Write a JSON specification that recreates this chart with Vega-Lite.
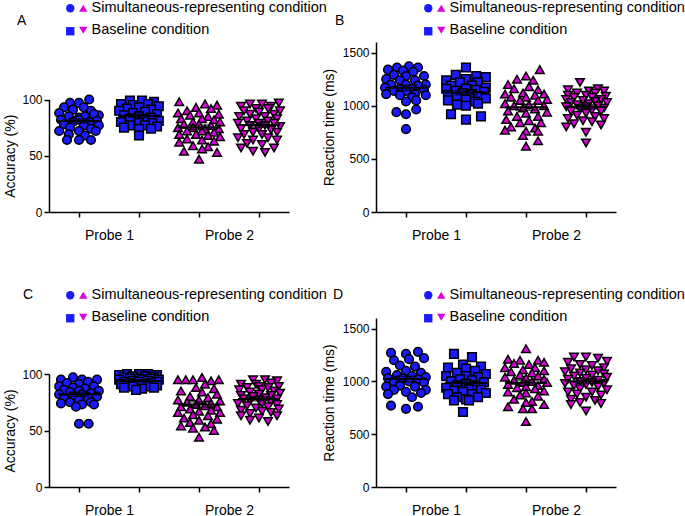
{
"$schema": "https://vega.github.io/schema/vega-lite/v6.json",
"autosize": {"type": "none"},
"padding": {"left": 49, "top": 42, "right": 636, "bottom": 474},
"background": "white",
"bounds": "flush",
"columns": 2,
"spacing": {"row": 106, "column": 87},
"config": {
 "view": {"stroke": null},
 "axis": {"domainColor": "black", "domainWidth": 1.5, "tickColor": "black", "tickWidth": 1.5, "tickSize": 5, "labelColor": "black", "labelFont": "Liberation Sans", "labelFontSize": 12, "titleFont": "Liberation Sans", "titleFontSize": 14, "titleFontWeight": "normal", "titleColor": "black", "grid": false, "format": "d"},
 "legend": {"labelFont": "Liberation Sans", "labelFontSize": 14.5, "labelColor": "black", "labelLimit": 0, "labelOffset": 1, "symbolStrokeColor": "black", "symbolStrokeWidth": 1.5, "symbolSize": 70, "rowPadding": 7, "padding": 0},
 "title": {"font": "Liberation Sans", "fontSize": 14, "fontWeight": "normal", "color": "black", "anchor": "start", "frame": "group"}
},
"datasets": {
"A": [
{"g":1,"x":1.17,"v":100},{"g":1,"x":0.85,"v":97},{"g":1,"x":1,"v":97},{"g":1,"x":0.75,"v":93},{"g":1,"x":1.08,"v":93},{"g":1,"x":1.33,"v":86},{"g":1,"x":0.9,"v":91},{"g":1,"x":1.2,"v":90},{"g":1,"x":0.67,"v":88},{"g":1,"x":1,"v":84},{"g":1,"x":1.25,"v":87},{"g":1,"x":0.83,"v":85},{"g":1,"x":1.1,"v":85},{"g":1,"x":0.7,"v":82},{"g":1,"x":1,"v":82},{"g":1,"x":1.3,"v":81},{"g":1,"x":0.9,"v":80},{"g":1,"x":1.17,"v":80},{"g":1,"x":0.75,"v":78},{"g":1,"x":1.08,"v":77},{"g":1,"x":1.33,"v":77},{"g":1,"x":0.85,"v":75},{"g":1,"x":1.2,"v":74},{"g":1,"x":0.67,"v":72},{"g":1,"x":1,"v":72},{"g":1,"x":1.28,"v":72},{"g":1,"x":0.83,"v":69},{"g":1,"x":1.1,"v":68},{"g":1,"x":0.8,"v":64},{"g":1,"x":1,"v":64},{"g":1,"x":1.2,"v":64},
{"g":2,"x":1.85,"v":99},{"g":2,"x":2.05,"v":99},{"g":2,"x":2.25,"v":98},{"g":2,"x":1.7,"v":96},{"g":2,"x":1.9,"v":95},{"g":2,"x":2.15,"v":96},{"g":2,"x":2.33,"v":94},{"g":2,"x":1.8,"v":92},{"g":2,"x":2,"v":93},{"g":2,"x":2.2,"v":91},{"g":2,"x":1.67,"v":90},{"g":2,"x":2.1,"v":89},{"g":2,"x":1.9,"v":88},{"g":2,"x":2.3,"v":87},{"g":2,"x":1.75,"v":86},{"g":2,"x":2,"v":85},{"g":2,"x":2.2,"v":84},{"g":2,"x":1.85,"v":83},{"g":2,"x":2.1,"v":82},{"g":2,"x":2.33,"v":81},{"g":2,"x":1.7,"v":80},{"g":2,"x":2,"v":79},{"g":2,"x":2.22,"v":79},{"g":2,"x":1.85,"v":77},{"g":2,"x":2.1,"v":77},{"g":2,"x":2.3,"v":76},{"g":2,"x":1.75,"v":75},{"g":2,"x":2,"v":74},{"g":2,"x":2.2,"v":74},{"g":2,"x":2,"v":68},
{"g":3,"x":2.67,"v":98},{"g":3,"x":3.1,"v":96},{"g":3,"x":3.3,"v":95},{"g":3,"x":2.95,"v":93},{"g":3,"x":3.2,"v":92},{"g":3,"x":2.8,"v":90},{"g":3,"x":2.65,"v":88},{"g":3,"x":3,"v":88},{"g":3,"x":3.33,"v":87},{"g":3,"x":2.85,"v":86},{"g":3,"x":3.15,"v":85},{"g":3,"x":2.7,"v":83},{"g":3,"x":3.05,"v":83},{"g":3,"x":3.25,"v":82},{"g":3,"x":2.9,"v":80},{"g":3,"x":3.35,"v":80},{"g":3,"x":2.75,"v":78},{"g":3,"x":3,"v":78},{"g":3,"x":3.2,"v":77},{"g":3,"x":2.65,"v":75},{"g":3,"x":2.9,"v":75},{"g":3,"x":3.1,"v":74},{"g":3,"x":3.33,"v":74},{"g":3,"x":2.8,"v":72},{"g":3,"x":3.05,"v":72},{"g":3,"x":3.25,"v":71},{"g":3,"x":2.67,"v":69},{"g":3,"x":2.95,"v":69},{"g":3,"x":3.15,"v":68},{"g":3,"x":3.35,"v":67},{"g":3,"x":2.8,"v":65},{"g":3,"x":3.05,"v":64},{"g":3,"x":3.25,"v":63},{"g":3,"x":2.67,"v":62},{"g":3,"x":2.9,"v":59},{"g":3,"x":3.15,"v":58},{"g":3,"x":2.75,"v":54},{"g":3,"x":3.05,"v":56},{"g":3,"x":3.3,"v":53},{"g":3,"x":3,"v":47},
{"g":4,"x":3.85,"v":96},{"g":4,"x":4.05,"v":96},{"g":4,"x":4.33,"v":97},{"g":4,"x":3.7,"v":94},{"g":4,"x":4.2,"v":94},{"g":4,"x":3.95,"v":92},{"g":4,"x":4.15,"v":92},{"g":4,"x":3.75,"v":90},{"g":4,"x":4.35,"v":90},{"g":4,"x":4,"v":89},{"g":4,"x":3.85,"v":87},{"g":4,"x":4.25,"v":87},{"g":4,"x":3.67,"v":85},{"g":4,"x":4.1,"v":85},{"g":4,"x":3.95,"v":83},{"g":4,"x":4.3,"v":83},{"g":4,"x":3.8,"v":81},{"g":4,"x":4.15,"v":81},{"g":4,"x":3.65,"v":79},{"g":4,"x":4,"v":79},{"g":4,"x":4.25,"v":79},{"g":4,"x":3.85,"v":77},{"g":4,"x":4.1,"v":77},{"g":4,"x":4.35,"v":76},{"g":4,"x":3.7,"v":74},{"g":4,"x":4,"v":74},{"g":4,"x":4.2,"v":73},{"g":4,"x":3.9,"v":71},{"g":4,"x":4.3,"v":71},{"g":4,"x":3.75,"v":69},{"g":4,"x":4.05,"v":69},{"g":4,"x":3.65,"v":66},{"g":4,"x":4.15,"v":66},{"g":4,"x":3.9,"v":64},{"g":4,"x":4.3,"v":64},{"g":4,"x":3.8,"v":61},{"g":4,"x":4.05,"v":60},{"g":4,"x":3.7,"v":57},{"g":4,"x":4.25,"v":57},{"g":4,"x":3.9,"v":54},{"g":4,"x":4.1,"v":53}
],
"B": [
{"g":1,"x":0.85,"v":1360},{"g":1,"x":1.05,"v":1370},{"g":1,"x":1.2,"v":1360},{"g":1,"x":0.7,"v":1340},{"g":1,"x":0.95,"v":1330},{"g":1,"x":1.12,"v":1320},{"g":1,"x":0.8,"v":1290},{"g":1,"x":1.3,"v":1280},{"g":1,"x":1,"v":1280},{"g":1,"x":0.67,"v":1250},{"g":1,"x":0.9,"v":1240},{"g":1,"x":1.15,"v":1240},{"g":1,"x":1.33,"v":1200},{"g":1,"x":0.75,"v":1200},{"g":1,"x":1,"v":1200},{"g":1,"x":1.2,"v":1190},{"g":1,"x":0.65,"v":1170},{"g":1,"x":0.9,"v":1160},{"g":1,"x":1.1,"v":1160},{"g":1,"x":1.3,"v":1150},{"g":1,"x":0.8,"v":1140},{"g":1,"x":1,"v":1140},{"g":1,"x":0.67,"v":1110},{"g":1,"x":1.15,"v":1110},{"g":1,"x":1.33,"v":1100},{"g":1,"x":0.9,"v":1100},{"g":1,"x":1.1,"v":1080},{"g":1,"x":1,"v":1040},{"g":1,"x":1.17,"v":1050},{"g":1,"x":0.84,"v":940},{"g":1,"x":1,"v":920},{"g":1,"x":1.17,"v":965},{"g":1,"x":1,"v":780},
{"g":2,"x":2,"v":1360},{"g":2,"x":1.83,"v":1290},{"g":2,"x":2.17,"v":1280},{"g":2,"x":2.33,"v":1270},{"g":2,"x":1.67,"v":1240},{"g":2,"x":2,"v":1250},{"g":2,"x":1.9,"v":1220},{"g":2,"x":2.2,"v":1220},{"g":2,"x":1.75,"v":1190},{"g":2,"x":2.1,"v":1190},{"g":2,"x":2.33,"v":1170},{"g":2,"x":1.67,"v":1160},{"g":2,"x":2,"v":1160},{"g":2,"x":2.17,"v":1150},{"g":2,"x":1.83,"v":1140},{"g":2,"x":2.3,"v":1130},{"g":2,"x":1.95,"v":1120},{"g":2,"x":2.1,"v":1110},{"g":2,"x":1.7,"v":1100},{"g":2,"x":2.2,"v":1090},{"g":2,"x":1.85,"v":1080},{"g":2,"x":2.33,"v":1070},{"g":2,"x":2,"v":1060},{"g":2,"x":1.7,"v":1050},{"g":2,"x":2.15,"v":1040},{"g":2,"x":1.85,"v":1010},{"g":2,"x":2,"v":1000},{"g":2,"x":2.2,"v":1020},{"g":2,"x":1.75,"v":920},{"g":2,"x":2.25,"v":900},{"g":2,"x":2,"v":870},
{"g":3,"x":3.23,"v":1340},{"g":3,"x":3,"v":1280},{"g":3,"x":2.85,"v":1250},{"g":3,"x":3.12,"v":1240},{"g":3,"x":2.7,"v":1200},{"g":3,"x":3.05,"v":1180},{"g":3,"x":2.8,"v":1160},{"g":3,"x":3.2,"v":1150},{"g":3,"x":2.65,"v":1110},{"g":3,"x":2.95,"v":1120},{"g":3,"x":3.3,"v":1110},{"g":3,"x":3.15,"v":1100},{"g":3,"x":2.75,"v":1080},{"g":3,"x":3,"v":1080},{"g":3,"x":3.35,"v":1060},{"g":3,"x":2.9,"v":1050},{"g":3,"x":3.2,"v":1050},{"g":3,"x":2.65,"v":1020},{"g":3,"x":3.05,"v":1010},{"g":3,"x":2.8,"v":1000},{"g":3,"x":3.3,"v":1000},{"g":3,"x":2.95,"v":980},{"g":3,"x":3.15,"v":970},{"g":3,"x":2.7,"v":950},{"g":3,"x":3.35,"v":940},{"g":3,"x":3,"v":930},{"g":3,"x":2.85,"v":900},{"g":3,"x":3.2,"v":900},{"g":3,"x":2.67,"v":870},{"g":3,"x":3.05,"v":860},{"g":3,"x":2.9,"v":840},{"g":3,"x":3.25,"v":840},{"g":3,"x":2.75,"v":800},{"g":3,"x":3.15,"v":790},{"g":3,"x":2.65,"v":770},{"g":3,"x":3,"v":760},{"g":3,"x":3.2,"v":760},{"g":3,"x":2.95,"v":720},{"g":3,"x":3.2,"v":670},{"g":3,"x":3,"v":620},
{"g":4,"x":3.9,"v":1220},{"g":4,"x":4.2,"v":1160},{"g":4,"x":3.7,"v":1150},{"g":4,"x":4.05,"v":1140},{"g":4,"x":4.3,"v":1140},{"g":4,"x":3.85,"v":1120},{"g":4,"x":4.15,"v":1120},{"g":4,"x":3.7,"v":1100},{"g":4,"x":4,"v":1100},{"g":4,"x":4.33,"v":1090},{"g":4,"x":3.8,"v":1080},{"g":4,"x":4.1,"v":1080},{"g":4,"x":3.67,"v":1060},{"g":4,"x":4.25,"v":1060},{"g":4,"x":3.95,"v":1050},{"g":4,"x":4.15,"v":1040},{"g":4,"x":3.75,"v":1030},{"g":4,"x":4.35,"v":1030},{"g":4,"x":4.05,"v":1020},{"g":4,"x":3.85,"v":1010},{"g":4,"x":4.2,"v":1000},{"g":4,"x":3.67,"v":990},{"g":4,"x":4,"v":990},{"g":4,"x":4.3,"v":980},{"g":4,"x":3.9,"v":970},{"g":4,"x":4.1,"v":960},{"g":4,"x":3.75,"v":950},{"g":4,"x":4.25,"v":950},{"g":4,"x":4,"v":930},{"g":4,"x":3.85,"v":910},{"g":4,"x":4.15,"v":900},{"g":4,"x":3.7,"v":880},{"g":4,"x":4.3,"v":880},{"g":4,"x":3.95,"v":860},{"g":4,"x":4.1,"v":850},{"g":4,"x":3.8,"v":830},{"g":4,"x":4.25,"v":820},{"g":4,"x":3.67,"v":800},{"g":4,"x":4,"v":750},{"g":4,"x":4,"v":650}
],
"C": [
{"g":1,"x":0.9,"v":97},{"g":1,"x":1.05,"v":95},{"g":1,"x":0.7,"v":95},{"g":1,"x":1.3,"v":95},{"g":1,"x":0.8,"v":92},{"g":1,"x":1.15,"v":93},{"g":1,"x":1,"v":91},{"g":1,"x":0.67,"v":89},{"g":1,"x":1.25,"v":89},{"g":1,"x":0.9,"v":88},{"g":1,"x":1.1,"v":87},{"g":1,"x":0.75,"v":86},{"g":1,"x":1.33,"v":85},{"g":1,"x":1,"v":85},{"g":1,"x":0.85,"v":84},{"g":1,"x":1.2,"v":83},{"g":1,"x":0.67,"v":82},{"g":1,"x":1.05,"v":82},{"g":1,"x":0.9,"v":80},{"g":1,"x":1.3,"v":80},{"g":1,"x":1.15,"v":79},{"g":1,"x":0.75,"v":78},{"g":1,"x":1,"v":77},{"g":1,"x":0.85,"v":75},{"g":1,"x":1.2,"v":75},{"g":1,"x":0.7,"v":74},{"g":1,"x":1.05,"v":73},{"g":1,"x":1.25,"v":73},{"g":1,"x":0.95,"v":71},{"g":1,"x":1,"v":56},{"g":1,"x":1.16,"v":56},
{"g":2,"x":1.8,"v":100},{"g":2,"x":2,"v":100},{"g":2,"x":2.15,"v":100},{"g":2,"x":2.3,"v":99},{"g":2,"x":1.67,"v":99},{"g":2,"x":1.9,"v":98},{"g":2,"x":2.1,"v":98},{"g":2,"x":2.25,"v":97},{"g":2,"x":1.75,"v":97},{"g":2,"x":2,"v":96},{"g":2,"x":1.85,"v":96},{"g":2,"x":2.2,"v":96},{"g":2,"x":2.33,"v":95},{"g":2,"x":1.67,"v":95},{"g":2,"x":2.05,"v":95},{"g":2,"x":1.9,"v":94},{"g":2,"x":2.15,"v":94},{"g":2,"x":1.75,"v":93},{"g":2,"x":2.3,"v":93},{"g":2,"x":2,"v":93},{"g":2,"x":1.85,"v":92},{"g":2,"x":2.2,"v":92},{"g":2,"x":1.7,"v":91},{"g":2,"x":2.05,"v":91},{"g":2,"x":2.3,"v":90},{"g":2,"x":1.9,"v":89},{"g":2,"x":2.15,"v":89},{"g":2,"x":1.75,"v":88},{"g":2,"x":2.05,"v":87},{"g":2,"x":2.25,"v":88},{"g":2,"x":1.95,"v":86},
{"g":3,"x":2.65,"v":95},{"g":3,"x":2.78,"v":95},{"g":3,"x":2.9,"v":95},{"g":3,"x":3.05,"v":97},{"g":3,"x":3.2,"v":94},{"g":3,"x":3.33,"v":95},{"g":3,"x":3.1,"v":91},{"g":3,"x":2.95,"v":88},{"g":3,"x":3.25,"v":87},{"g":3,"x":2.7,"v":85},{"g":3,"x":3.05,"v":84},{"g":3,"x":3.3,"v":82},{"g":3,"x":2.85,"v":80},{"g":3,"x":3.15,"v":79},{"g":3,"x":2.65,"v":77},{"g":3,"x":3,"v":77},{"g":3,"x":3.35,"v":76},{"g":3,"x":2.8,"v":75},{"g":3,"x":3.2,"v":74},{"g":3,"x":2.95,"v":73},{"g":3,"x":3.1,"v":72},{"g":3,"x":2.7,"v":71},{"g":3,"x":3.3,"v":71},{"g":3,"x":2.85,"v":69},{"g":3,"x":3.2,"v":68},{"g":3,"x":3,"v":67},{"g":3,"x":2.65,"v":66},{"g":3,"x":3.35,"v":66},{"g":3,"x":2.9,"v":64},{"g":3,"x":3.15,"v":63},{"g":3,"x":2.75,"v":61},{"g":3,"x":3.3,"v":60},{"g":3,"x":3,"v":59},{"g":3,"x":2.85,"v":57},{"g":3,"x":3.2,"v":56},{"g":3,"x":2.7,"v":54},{"g":3,"x":3.1,"v":53},{"g":3,"x":2.9,"v":52},{"g":3,"x":3.25,"v":50},{"g":3,"x":3,"v":44},
{"g":4,"x":3.9,"v":95},{"g":4,"x":4.1,"v":95},{"g":4,"x":4.3,"v":94},{"g":4,"x":3.7,"v":91},{"g":4,"x":3.95,"v":91},{"g":4,"x":4.2,"v":92},{"g":4,"x":4,"v":89},{"g":4,"x":4.33,"v":89},{"g":4,"x":3.8,"v":88},{"g":4,"x":4.15,"v":88},{"g":4,"x":3.67,"v":86},{"g":4,"x":4.05,"v":86},{"g":4,"x":4.25,"v":85},{"g":4,"x":3.85,"v":84},{"g":4,"x":4.35,"v":83},{"g":4,"x":4,"v":82},{"g":4,"x":3.7,"v":81},{"g":4,"x":4.2,"v":81},{"g":4,"x":3.9,"v":80},{"g":4,"x":4.1,"v":79},{"g":4,"x":3.75,"v":78},{"g":4,"x":4.3,"v":78},{"g":4,"x":4,"v":77},{"g":4,"x":3.85,"v":76},{"g":4,"x":4.2,"v":75},{"g":4,"x":3.65,"v":74},{"g":4,"x":4.05,"v":74},{"g":4,"x":4.3,"v":73},{"g":4,"x":3.8,"v":72},{"g":4,"x":4.15,"v":71},{"g":4,"x":3.95,"v":70},{"g":4,"x":4.33,"v":69},{"g":4,"x":3.7,"v":68},{"g":4,"x":4.05,"v":67},{"g":4,"x":4.2,"v":66},{"g":4,"x":3.85,"v":65},{"g":4,"x":3.7,"v":63},{"g":4,"x":4.3,"v":63},{"g":4,"x":4,"v":61},{"g":4,"x":3.85,"v":59},{"g":4,"x":4.15,"v":58}
],
"D": [
{"g":1,"x":0.75,"v":1270},{"g":1,"x":1,"v":1260},{"g":1,"x":1.2,"v":1280},{"g":1,"x":0.8,"v":1200},{"g":1,"x":1.05,"v":1210},{"g":1,"x":1.3,"v":1220},{"g":1,"x":0.9,"v":1150},{"g":1,"x":1.15,"v":1140},{"g":1,"x":0.67,"v":1090},{"g":1,"x":1,"v":1100},{"g":1,"x":1.25,"v":1080},{"g":1,"x":0.85,"v":1060},{"g":1,"x":1.1,"v":1050},{"g":1,"x":1.33,"v":1040},{"g":1,"x":0.7,"v":1030},{"g":1,"x":0.95,"v":1030},{"g":1,"x":1.2,"v":1020},{"g":1,"x":0.8,"v":1000},{"g":1,"x":1.05,"v":1000},{"g":1,"x":1.3,"v":990},{"g":1,"x":0.67,"v":950},{"g":1,"x":0.9,"v":960},{"g":1,"x":1.15,"v":950},{"g":1,"x":1.33,"v":920},{"g":1,"x":0.8,"v":920},{"g":1,"x":1,"v":900},{"g":1,"x":1.25,"v":890},{"g":1,"x":0.7,"v":880},{"g":1,"x":1.1,"v":850},{"g":1,"x":0.75,"v":770},{"g":1,"x":1,"v":740},{"g":1,"x":1.2,"v":760},
{"g":2,"x":1.8,"v":1260},{"g":2,"x":2.1,"v":1230},{"g":2,"x":1.95,"v":1160},{"g":2,"x":2.25,"v":1140},{"g":2,"x":1.7,"v":1130},{"g":2,"x":2,"v":1120},{"g":2,"x":2.15,"v":1100},{"g":2,"x":1.85,"v":1080},{"g":2,"x":2.33,"v":1070},{"g":2,"x":1.67,"v":1050},{"g":2,"x":2,"v":1050},{"g":2,"x":2.2,"v":1040},{"g":2,"x":1.9,"v":1020},{"g":2,"x":2.1,"v":1010},{"g":2,"x":1.75,"v":1000},{"g":2,"x":2.3,"v":990},{"g":2,"x":2,"v":980},{"g":2,"x":1.85,"v":960},{"g":2,"x":2.15,"v":960},{"g":2,"x":1.67,"v":940},{"g":2,"x":2.05,"v":930},{"g":2,"x":2.25,"v":920},{"g":2,"x":1.8,"v":910},{"g":2,"x":1.95,"v":900},{"g":2,"x":2.33,"v":890},{"g":2,"x":2.1,"v":880},{"g":2,"x":1.7,"v":880},{"g":2,"x":1.85,"v":850},{"g":2,"x":2.2,"v":850},{"g":2,"x":2,"v":830},{"g":2,"x":1.8,"v":820},{"g":2,"x":2.05,"v":820},{"g":2,"x":1.95,"v":710},
{"g":3,"x":3,"v":1310},{"g":3,"x":2.7,"v":1210},{"g":3,"x":2.9,"v":1200},{"g":3,"x":3.2,"v":1200},{"g":3,"x":3.3,"v":1180},{"g":3,"x":2.8,"v":1170},{"g":3,"x":3.05,"v":1160},{"g":3,"x":2.65,"v":1130},{"g":3,"x":3.15,"v":1130},{"g":3,"x":2.95,"v":1110},{"g":3,"x":3.3,"v":1100},{"g":3,"x":2.75,"v":1090},{"g":3,"x":3.1,"v":1080},{"g":3,"x":2.9,"v":1060},{"g":3,"x":3.2,"v":1050},{"g":3,"x":2.65,"v":1040},{"g":3,"x":3,"v":1030},{"g":3,"x":3.3,"v":1020},{"g":3,"x":2.8,"v":1010},{"g":3,"x":3.1,"v":1000},{"g":3,"x":2.95,"v":990},{"g":3,"x":3.35,"v":990},{"g":3,"x":2.7,"v":970},{"g":3,"x":3.2,"v":960},{"g":3,"x":3,"v":950},{"g":3,"x":2.85,"v":940},{"g":3,"x":3.15,"v":930},{"g":3,"x":3.3,"v":910},{"g":3,"x":2.7,"v":900},{"g":3,"x":3,"v":890},{"g":3,"x":2.9,"v":870},{"g":3,"x":3.2,"v":860},{"g":3,"x":2.8,"v":830},{"g":3,"x":3.1,"v":810},{"g":3,"x":2.7,"v":760},{"g":3,"x":3.3,"v":780},{"g":3,"x":3,"v":800},{"g":3,"x":2.95,"v":740},{"g":3,"x":3.1,"v":740},{"g":3,"x":3,"v":620},
{"g":4,"x":3.8,"v":1230},{"g":4,"x":4,"v":1230},{"g":4,"x":4.2,"v":1220},{"g":4,"x":4.35,"v":1190},{"g":4,"x":3.7,"v":1180},{"g":4,"x":3.9,"v":1160},{"g":4,"x":4.1,"v":1150},{"g":4,"x":4.3,"v":1130},{"g":4,"x":3.75,"v":1120},{"g":4,"x":4,"v":1110},{"g":4,"x":4.2,"v":1100},{"g":4,"x":3.65,"v":1090},{"g":4,"x":3.9,"v":1080},{"g":4,"x":4.3,"v":1070},{"g":4,"x":4.1,"v":1060},{"g":4,"x":3.8,"v":1050},{"g":4,"x":4.35,"v":1040},{"g":4,"x":4,"v":1030},{"g":4,"x":3.7,"v":1020},{"g":4,"x":4.2,"v":1010},{"g":4,"x":3.9,"v":1000},{"g":4,"x":4.1,"v":990},{"g":4,"x":3.65,"v":980},{"g":4,"x":4.3,"v":980},{"g":4,"x":4,"v":970},{"g":4,"x":3.8,"v":960},{"g":4,"x":4.2,"v":950},{"g":4,"x":3.9,"v":930},{"g":4,"x":4.35,"v":920},{"g":4,"x":3.7,"v":900},{"g":4,"x":4.1,"v":900},{"g":4,"x":3.85,"v":880},{"g":4,"x":4.25,"v":870},{"g":4,"x":4,"v":850},{"g":4,"x":3.75,"v":830},{"g":4,"x":4.15,"v":820},{"g":4,"x":3.9,"v":800},{"g":4,"x":4.25,"v":790},{"g":4,"x":3.75,"v":780},{"g":4,"x":4,"v":720}
]
},
"concat": [
{
 "width": 240, "height": 170,
 "data": {"name": "A"},
 "title": {"text": "A", "dx": -32, "dy": 31},
 "layer": [
  {"transform": [{"filter": "datum.g <= 2"}],
   "mark": {"type": "point", "filled": true, "color": "#1a1aff", "stroke": "black", "strokeWidth": 1.5, "size": 75, "opacity": 1},
   "encoding": {
    "x": {"field": "x", "type": "quantitative", "title": null, "scale": {"domain": [0.5, 4.5]}, "axis": {"values": [1, 1.5, 2, 3, 3.5, 4], "labelExpr": "datum.value == 1.5 ? 'Probe 1' : datum.value == 3.5 ? 'Probe 2' : ''", "tickOpacity": {"condition": {"test": "datum.value == 1.5 || datum.value == 3.5", "value": 0}, "value": 1}, "labelFontSize": 14, "labelPadding": 11, "labelFlush": false, "labelOverlap": false}},
    "y": {"field": "v", "type": "quantitative", "title": "Accuracy (%)", "scale": {"domain": [0, 100], "range": [170, 57.5]}, "axis": {"values": [0, 50, 100]}},
    "shape": {"field": "g", "type": "nominal", "scale": {"domain": [1, 2], "range": ["circle", "square"]}, "legend": {"orient": "none", "legendX": 14, "legendY": -41, "title": null, "labelExpr": "' '", "encode": {"symbols": {"update": {"fill": {"value": "#1a1aff"}, "stroke": {"value": "black"}, "strokeWidth": {"value": 1.5}, "opacity": {"value": 1}}}}}}
   }},
  {"transform": [{"filter": "datum.g >= 3"}],
   "mark": {"type": "point", "filled": true, "color": "#dd00dd", "stroke": "black", "strokeWidth": 1.5, "size": 75, "opacity": 1},
   "encoding": {
    "x": {"field": "x", "type": "quantitative", "title": null, "scale": {"domain": [0.5, 4.5]}},
    "y": {"field": "v", "type": "quantitative", "title": "Accuracy (%)", "scale": {"domain": [0, 100], "range": [170, 57.5]}},
    "shape": {"field": "g", "type": "nominal", "scale": {"domain": [3, 4], "range": ["triangle-up", "triangle-down"]}, "legend": {"orient": "none", "legendX": 27, "legendY": -41, "title": null, "labelExpr": "datum.label == '3' ? 'Simultaneous-representing condition' : 'Baseline condition'", "encode": {"symbols": {"update": {"fill": {"value": "#dd00dd"}, "stroke": {"value": "black"}, "strokeWidth": {"value": 1.5}, "opacity": {"value": 1}}}}}}
   }},
  {"mark": {"type": "errorbar", "extent": "stderr", "orient": "vertical", "ticks": {"size": 22, "thickness": 1.5}, "color": "black", "thickness": 1.5},
   "encoding": {"x": {"field": "g", "type": "quantitative", "title": null}, "y": {"field": "v", "type": "quantitative", "title": "Accuracy (%)"}}},
  {"mark": {"type": "tick", "orient": "horizontal", "size": 42, "thickness": 2, "color": "black", "opacity": 1},
   "encoding": {"x": {"field": "g", "type": "quantitative", "title": null}, "y": {"aggregate": "mean", "field": "v", "type": "quantitative", "title": "Accuracy (%)"}}}
 ],
 "resolve": {"scale": {"shape": "independent"}, "legend": {"shape": "independent"}}
},
{
 "width": 240, "height": 170,
 "data": {"name": "B"},
 "title": {"text": "B", "dx": -41, "dy": 31},
 "layer": [
  {"transform": [{"filter": "datum.g <= 2"}],
   "mark": {"type": "point", "filled": true, "color": "#1a1aff", "stroke": "black", "strokeWidth": 1.5, "size": 75, "opacity": 1},
   "encoding": {
    "x": {"field": "x", "type": "quantitative", "title": null, "scale": {"domain": [0.5, 4.5]}, "axis": {"values": [1, 1.5, 2, 3, 3.5, 4], "labelExpr": "datum.value == 1.5 ? 'Probe 1' : datum.value == 3.5 ? 'Probe 2' : ''", "tickOpacity": {"condition": {"test": "datum.value == 1.5 || datum.value == 3.5", "value": 0}, "value": 1}, "labelFontSize": 14, "labelPadding": 11, "labelFlush": false, "labelOverlap": false}},
    "y": {"field": "v", "type": "quantitative", "title": "Reaction time (ms)", "scale": {"domain": [0, 1500]}, "axis": {"values": [0, 500, 1000, 1500], "titlePadding": 6}},
    "shape": {"field": "g", "type": "nominal", "scale": {"domain": [1, 2], "range": ["circle", "square"]}, "legend": {"orient": "none", "legendX": 45, "legendY": -41, "title": null, "labelExpr": "' '", "encode": {"symbols": {"update": {"fill": {"value": "#1a1aff"}, "stroke": {"value": "black"}, "strokeWidth": {"value": 1.5}, "opacity": {"value": 1}}}}}}
   }},
  {"transform": [{"filter": "datum.g >= 3"}],
   "mark": {"type": "point", "filled": true, "color": "#dd00dd", "stroke": "black", "strokeWidth": 1.5, "size": 75, "opacity": 1},
   "encoding": {
    "x": {"field": "x", "type": "quantitative", "title": null, "scale": {"domain": [0.5, 4.5]}},
    "y": {"field": "v", "type": "quantitative", "title": "Reaction time (ms)", "scale": {"domain": [0, 1500]}},
    "shape": {"field": "g", "type": "nominal", "scale": {"domain": [3, 4], "range": ["triangle-up", "triangle-down"]}, "legend": {"orient": "none", "legendX": 58, "legendY": -41, "title": null, "labelExpr": "datum.label == '3' ? 'Simultaneous-representing condition' : 'Baseline condition'", "encode": {"symbols": {"update": {"fill": {"value": "#dd00dd"}, "stroke": {"value": "black"}, "strokeWidth": {"value": 1.5}, "opacity": {"value": 1}}}}}}
   }},
  {"mark": {"type": "errorbar", "extent": "stderr", "orient": "vertical", "ticks": {"size": 22, "thickness": 1.5}, "color": "black", "thickness": 1.5},
   "encoding": {"x": {"field": "g", "type": "quantitative", "title": null}, "y": {"field": "v", "type": "quantitative", "title": "Reaction time (ms)"}}},
  {"mark": {"type": "tick", "orient": "horizontal", "size": 42, "thickness": 2, "color": "black", "opacity": 1},
   "encoding": {"x": {"field": "g", "type": "quantitative", "title": null}, "y": {"aggregate": "mean", "field": "v", "type": "quantitative", "title": "Reaction time (ms)"}}}
 ],
 "resolve": {"scale": {"shape": "independent"}, "legend": {"shape": "independent"}}
},
{
 "width": 240, "height": 169,
 "data": {"name": "C"},
 "title": {"text": "C", "dx": -26, "dy": 18},
 "layer": [
  {"transform": [{"filter": "datum.g <= 2"}],
   "mark": {"type": "point", "filled": true, "color": "#1a1aff", "stroke": "black", "strokeWidth": 1.5, "size": 75, "opacity": 1},
   "encoding": {
    "x": {"field": "x", "type": "quantitative", "title": null, "scale": {"domain": [0.5, 4.5]}, "axis": {"values": [1, 1.5, 2, 3, 3.5, 4], "labelExpr": "datum.value == 1.5 ? 'Probe 1' : datum.value == 3.5 ? 'Probe 2' : ''", "tickOpacity": {"condition": {"test": "datum.value == 1.5 || datum.value == 3.5", "value": 0}, "value": 1}, "labelFontSize": 14, "labelPadding": 11, "labelFlush": false, "labelOverlap": false}},
    "y": {"field": "v", "type": "quantitative", "title": "Accuracy (%)", "scale": {"domain": [0, 100], "range": [169, 56]}, "axis": {"values": [0, 50, 100]}},
    "shape": {"field": "g", "type": "nominal", "scale": {"domain": [1, 2], "range": ["circle", "square"]}, "legend": {"orient": "none", "legendX": 14, "legendY": -30, "title": null, "labelExpr": "' '", "encode": {"symbols": {"update": {"fill": {"value": "#1a1aff"}, "stroke": {"value": "black"}, "strokeWidth": {"value": 1.5}, "opacity": {"value": 1}}}}}}
   }},
  {"transform": [{"filter": "datum.g >= 3"}],
   "mark": {"type": "point", "filled": true, "color": "#dd00dd", "stroke": "black", "strokeWidth": 1.5, "size": 75, "opacity": 1},
   "encoding": {
    "x": {"field": "x", "type": "quantitative", "title": null, "scale": {"domain": [0.5, 4.5]}},
    "y": {"field": "v", "type": "quantitative", "title": "Accuracy (%)", "scale": {"domain": [0, 100], "range": [169, 56]}},
    "shape": {"field": "g", "type": "nominal", "scale": {"domain": [3, 4], "range": ["triangle-up", "triangle-down"]}, "legend": {"orient": "none", "legendX": 27, "legendY": -30, "title": null, "labelExpr": "datum.label == '3' ? 'Simultaneous-representing condition' : 'Baseline condition'", "encode": {"symbols": {"update": {"fill": {"value": "#dd00dd"}, "stroke": {"value": "black"}, "strokeWidth": {"value": 1.5}, "opacity": {"value": 1}}}}}}
   }},
  {"mark": {"type": "errorbar", "extent": "stderr", "orient": "vertical", "ticks": {"size": 22, "thickness": 1.5}, "color": "black", "thickness": 1.5},
   "encoding": {"x": {"field": "g", "type": "quantitative", "title": null}, "y": {"field": "v", "type": "quantitative", "title": "Accuracy (%)"}}},
  {"mark": {"type": "tick", "orient": "horizontal", "size": 42, "thickness": 2, "color": "black", "opacity": 1},
   "encoding": {"x": {"field": "g", "type": "quantitative", "title": null}, "y": {"aggregate": "mean", "field": "v", "type": "quantitative", "title": "Accuracy (%)"}}}
 ],
 "resolve": {"scale": {"shape": "independent"}, "legend": {"shape": "independent"}}
},
{
 "width": 240, "height": 169,
 "data": {"name": "D"},
 "title": {"text": "D", "dx": -43, "dy": 18},
 "layer": [
  {"transform": [{"filter": "datum.g <= 2"}],
   "mark": {"type": "point", "filled": true, "color": "#1a1aff", "stroke": "black", "strokeWidth": 1.5, "size": 75, "opacity": 1},
   "encoding": {
    "x": {"field": "x", "type": "quantitative", "title": null, "scale": {"domain": [0.5, 4.5]}, "axis": {"values": [1, 1.5, 2, 3, 3.5, 4], "labelExpr": "datum.value == 1.5 ? 'Probe 1' : datum.value == 3.5 ? 'Probe 2' : ''", "tickOpacity": {"condition": {"test": "datum.value == 1.5 || datum.value == 3.5", "value": 0}, "value": 1}, "labelFontSize": 14, "labelPadding": 11, "labelFlush": false, "labelOverlap": false}},
    "y": {"field": "v", "type": "quantitative", "title": "Reaction time (ms)", "scale": {"domain": [0, 1500]}, "axis": {"values": [0, 500, 1000, 1500], "titlePadding": 6}},
    "shape": {"field": "g", "type": "nominal", "scale": {"domain": [1, 2], "range": ["circle", "square"]}, "legend": {"orient": "none", "legendX": 45, "legendY": -30, "title": null, "labelExpr": "' '", "encode": {"symbols": {"update": {"fill": {"value": "#1a1aff"}, "stroke": {"value": "black"}, "strokeWidth": {"value": 1.5}, "opacity": {"value": 1}}}}}}
   }},
  {"transform": [{"filter": "datum.g >= 3"}],
   "mark": {"type": "point", "filled": true, "color": "#dd00dd", "stroke": "black", "strokeWidth": 1.5, "size": 75, "opacity": 1},
   "encoding": {
    "x": {"field": "x", "type": "quantitative", "title": null, "scale": {"domain": [0.5, 4.5]}},
    "y": {"field": "v", "type": "quantitative", "title": "Reaction time (ms)", "scale": {"domain": [0, 1500]}},
    "shape": {"field": "g", "type": "nominal", "scale": {"domain": [3, 4], "range": ["triangle-up", "triangle-down"]}, "legend": {"orient": "none", "legendX": 58, "legendY": -30, "title": null, "labelExpr": "datum.label == '3' ? 'Simultaneous-representing condition' : 'Baseline condition'", "encode": {"symbols": {"update": {"fill": {"value": "#dd00dd"}, "stroke": {"value": "black"}, "strokeWidth": {"value": 1.5}, "opacity": {"value": 1}}}}}}
   }},
  {"mark": {"type": "errorbar", "extent": "stderr", "orient": "vertical", "ticks": {"size": 22, "thickness": 1.5}, "color": "black", "thickness": 1.5},
   "encoding": {"x": {"field": "g", "type": "quantitative", "title": null}, "y": {"field": "v", "type": "quantitative", "title": "Reaction time (ms)"}}},
  {"mark": {"type": "tick", "orient": "horizontal", "size": 42, "thickness": 2, "color": "black", "opacity": 1},
   "encoding": {"x": {"field": "g", "type": "quantitative", "title": null}, "y": {"aggregate": "mean", "field": "v", "type": "quantitative", "title": "Reaction time (ms)"}}}
 ],
 "resolve": {"scale": {"shape": "independent"}, "legend": {"shape": "independent"}}
}
]
}
